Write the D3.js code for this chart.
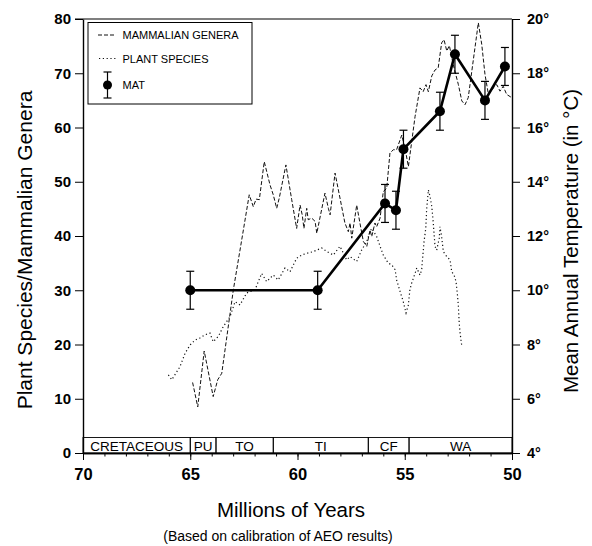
<!DOCTYPE html>
<html>
<head>
<meta charset="utf-8">
<script src="https://cdn.jsdelivr.net/npm/d3@7"></script>
<style>
	body { margin: 0; background: #fff; }
	svg { font-family: "Liberation Sans", Arial, Helvetica, sans-serif; }
</style>
</head>
<body>
<svg id="chart" width="592" height="546"></svg>
<script>
// ages are in millions of years, counts on left axis, temperatures in deg C
var mammalAge = [64.89, 64.65, 64.35, 63.93, 63.72, 63.53, 62.99, 62.60, 62.25, 62.06, 61.93, 61.78,
	61.55, 61.28, 61.13, 60.97, 60.85, 60.54, 60.27, 60.04, 59.88, 59.78, 59.70, 59.57, 59.50, 59.34,
	59.18, 59.10, 58.72, 58.56, 58.48, 58.25, 58.02, 57.79, 57.63, 57.55, 57.47, 57.24, 57.09, 56.93,
	56.77, 56.62, 56.54, 56.39, 56.31, 56.15, 56.00, 55.84, 55.69, 55.53, 55.38, 55.22, 55.14, 54.99,
	54.83, 54.52, 54.29, 54.14, 54.01, 53.90, 53.74, 53.59, 53.44, 53.28, 53.17, 53.04, 52.92, 52.74,
	52.50, 52.34, 52.19, 52.04, 51.57, 51.41, 51.26, 51.10, 50.87, 50.71, 50.56, 50.41, 50.25, 50.01];
var mammalCount = [13.0, 8.5, 18.8, 10.4, 13.5, 14.7, 30.1, 39.3, 47.6, 45.4, 46.8, 46.7,
	53.7, 49.4, 47.6, 45.1, 47.0, 53.1, 46.7, 41.4, 45.7, 43.9, 41.4, 45.1, 43.0, 43.3,
	42.7, 40.5, 47.9, 45.1, 43.9, 51.6, 47.0, 42.4, 40.8, 42.4, 39.6, 45.7, 42.4, 39.0,
	38.1, 41.1, 39.9, 42.4, 41.7, 43.3, 48.2, 48.8, 55.3, 55.9, 55.9, 57.7, 58.6, 56.2,
	52.8, 62.0, 67.3, 66.6, 67.9, 66.6, 69.5, 70.6, 71.0, 75.6, 76.2, 74.1, 75.1, 71.6,
	67.9, 64.9, 64.2, 65.5, 79.3, 75.3, 69.8, 66.1, 67.3, 67.9, 66.7, 67.6, 66.1, 65.5];

var plantAge = [66.02, 65.86, 65.48, 65.24, 65.01, 64.78, 64.55, 64.31, 64.08, 63.93, 63.69, 63.46,
	63.15, 62.91, 62.68, 62.37, 61.98, 61.67, 61.44, 61.13, 60.90, 60.58, 60.35, 60.04, 59.80, 59.57,
	59.28, 58.87, 58.62, 58.33, 58.02, 57.71, 57.55, 57.24, 57.01, 56.77, 56.62, 56.54, 56.31, 56.15,
	56.00, 55.77, 55.61, 55.45, 55.38, 55.22, 55.07, 54.94, 54.83, 54.76, 54.68, 54.60, 54.52, 54.44,
	54.29, 54.21, 54.16, 54.10, 54.02, 53.98, 53.90, 53.82, 53.74, 53.67, 53.59, 53.51, 53.39, 53.36,
	53.28, 53.20, 53.04, 52.89, 52.81, 52.70, 52.61, 52.55, 52.50, 52.46, 52.42, 52.34];
var plantCount = [14.4, 13.5, 15.9, 18.4, 19.9, 20.8, 21.2, 21.8, 22.1, 20.5, 21.5, 23.3,
	25.1, 27.9, 27.3, 29.5, 30.1, 33.1, 31.6, 32.8, 31.9, 34.1, 33.4, 35.9, 36.5, 36.8,
	37.1, 37.8, 37.1, 36.5, 38.1, 35.6, 36.2, 35.3, 37.4, 39.0, 40.8, 41.4, 39.9, 38.1,
	36.5, 35.0, 34.7, 33.8, 31.9, 29.8, 27.9, 25.8, 27.3, 30.1, 31.3, 32.2, 33.1, 34.1,
	32.8, 33.8, 36.2, 39.0, 41.4, 44.8, 48.5, 47.3, 45.4, 42.4, 38.1, 37.4, 39.6, 41.7,
	39.9, 37.1, 36.2, 35.6, 33.4, 32.8, 31.6, 29.5, 27.0, 23.9, 22.1, 19.7];

var matAge = [65.0, 59.06, 55.92, 55.41, 55.06, 53.36, 52.66, 51.26, 50.33];
var matTemp = [10.0, 10.0, 13.2, 12.95, 15.2, 16.6, 18.7, 17.0, 18.25];
var matErr = [0.7, 0.7, 0.7, 0.7, 0.7, 0.7, 0.7, 0.7, 0.7];

var stageNames = ["CRETACEOUS", "PU", "TO", "TI", "CF", "WA"];
var stageStart = [70, 65, 63.8, 61.13, 56.7, 54.8];
var stageEnd = [65, 63.8, 61.13, 56.7, 54.8, 50];

var countTicks = [0, 10, 20, 30, 40, 50, 60, 70, 80];
var tempTicks = [4, 6, 8, 10, 12, 14, 16, 18, 20];
var ageTicks = [70, 65, 60, 55, 50];
var ageMinor = d3.range(50, 71);

var legendLabels = ["MAMMALIAN GENERA", "PLANT SPECIES", "MAT"];

(function(){
	var svg = d3.select("#chart");

	var x0 = 83, x1 = 512, y0 = 453, y1 = 19;

	var xscale = d3.scaleLinear().domain([70, 50]).range([x0, x1]);
	var yscale = d3.scaleLinear().domain([0, 80]).range([y0, y1]);
	var tscale = d3.scaleLinear().domain([4, 20]).range([y0, y1]);

	// frame top line
	svg.append("line")
		.attr("x1", x0 - 8).attr("x2", x1)
		.attr("y1", y1).attr("y2", y1)
		.attr("stroke", "#000").attr("stroke-width", 1.2);

	// stage boxes along the bottom
	var sb = svg.append("g").attr("class", "stages");
	sb.selectAll("rect")
		.data(stageNames)
		.enter().append("rect")
			.attr("x", function(d, i){ return xscale(stageStart[i]); })
			.attr("width", function(d, i){ return xscale(stageEnd[i]) - xscale(stageStart[i]); })
			.attr("y", y0 - 15.5)
			.attr("height", 15.5)
			.attr("fill", "none")
			.attr("stroke", "#000")
			.attr("stroke-width", 0.9);
	sb.selectAll("text")
		.data(stageNames)
		.enter().append("text")
			.attr("x", function(d, i){ return (xscale(stageStart[i]) + xscale(stageEnd[i])) / 2; })
			.attr("y", y0 - 2.5)
			.attr("text-anchor", "middle")
			.style("font-size", "13.5px")
			.text(function(d){ return d; });

	// axes
	var leftAxis = d3.axisLeft(yscale).tickValues(countTicks).tickSize(8).tickSizeOuter(0).tickPadding(4);
	var gl = svg.append("g").attr("transform", "translate(" + x0 + ",0)").call(leftAxis);
	gl.selectAll("text").style("font-size", "15px").style("font-weight", "bold").attr("fill", "#000");

	var rightAxis = d3.axisRight(tscale).tickValues(tempTicks).tickSize(8).tickSizeOuter(0).tickPadding(7)
		.tickFormat(function(d){ return d + "\u00b0"; });
	var gr = svg.append("g").attr("transform", "translate(" + x1 + ",0)").call(rightAxis);
	gr.selectAll("text").style("font-size", "14.5px").style("font-weight", "bold").attr("fill", "#000");

	var minorAxis = d3.axisBottom(xscale).tickValues(ageMinor).tickSize(3.5).tickSizeOuter(0).tickFormat("");
	svg.append("g").attr("transform", "translate(0," + y0 + ")").call(minorAxis);

	var bottomAxis = d3.axisBottom(xscale).tickValues(ageTicks).tickSize(7).tickSizeOuter(0).tickPadding(8)
		.tickFormat(d3.format("d"));
	var gb = svg.append("g").attr("transform", "translate(0," + y0 + ")").call(bottomAxis);
	gb.selectAll("text").style("font-size", "16.5px").style("font-weight", "bold").attr("fill", "#000");

	svg.selectAll(".domain").attr("stroke-width", 1.4);

	// plant species (dotted)
	var line = d3.line()
		.x(function(d){ return xscale(d[0]); })
		.y(function(d){ return yscale(d[1]); });

	svg.append("path")
		.datum(d3.zip(plantAge, plantCount))
		.attr("d", line)
		.attr("fill", "none")
		.attr("stroke", "#111")
		.attr("stroke-width", 1.2)
		.attr("stroke-dasharray", "1.2,2.6");

	// mammalian genera (dashed)
	svg.append("path")
		.datum(d3.zip(mammalAge, mammalCount))
		.attr("d", line)
		.attr("fill", "none")
		.attr("stroke", "#111")
		.attr("stroke-width", 1)
		.attr("stroke-dasharray", "4,2");

	// MAT
	var tline = d3.line()
		.x(function(d){ return xscale(d[0]); })
		.y(function(d){ return tscale(d[1]); });

	var mat = d3.zip(matAge, matTemp, matErr);
	var gm = svg.append("g").attr("class", "mat");

	gm.selectAll("line.err")
		.data(mat)
		.enter().append("line")
			.attr("class", "err")
			.attr("x1", function(d){ return xscale(d[0]); })
			.attr("x2", function(d){ return xscale(d[0]); })
			.attr("y1", function(d){ return tscale(d[1] - d[2]); })
			.attr("y2", function(d){ return tscale(d[1] + d[2]); })
			.attr("stroke", "#000").attr("stroke-width", 1.2);
	[1, -1].forEach(function(s){
		gm.selectAll("line.cap" + (s > 0 ? "t" : "b"))
			.data(mat)
			.enter().append("line")
				.attr("class", "cap" + (s > 0 ? "t" : "b"))
				.attr("x1", function(d){ return xscale(d[0]) - 4; })
				.attr("x2", function(d){ return xscale(d[0]) + 4; })
				.attr("y1", function(d){ return tscale(d[1] + s * d[2]); })
				.attr("y2", function(d){ return tscale(d[1] + s * d[2]); })
				.attr("stroke", "#000").attr("stroke-width", 1.2);
	});

	gm.append("path")
		.datum(mat)
		.attr("d", tline)
		.attr("fill", "none")
		.attr("stroke", "#000")
		.attr("stroke-width", 2.6);

	gm.selectAll("circle")
		.data(mat)
		.enter().append("circle")
			.attr("cx", function(d){ return xscale(d[0]); })
			.attr("cy", function(d){ return tscale(d[1]); })
			.attr("r", 5)
			.attr("fill", "#000");

	// legend
	var lg = svg.append("g").attr("class", "legend");
	lg.append("rect")
		.attr("x", 88).attr("y", 22.5)
		.attr("width", 164).attr("height", 81.5)
		.attr("fill", "#fff").attr("stroke", "#000").attr("stroke-width", 1);
	lg.append("line")
		.attr("x1", 98).attr("x2", 116).attr("y1", 35).attr("y2", 35)
		.attr("stroke", "#111").attr("stroke-dasharray", "4,2");
	lg.append("line")
		.attr("x1", 99).attr("x2", 116).attr("y1", 58.5).attr("y2", 58.5)
		.attr("stroke", "#111").attr("stroke-width", 1.2).attr("stroke-dasharray", "1.2,2.6");
	lg.append("line")
		.attr("x1", 107.5).attr("x2", 107.5).attr("y1", 72).attr("y2", 98)
		.attr("stroke", "#000").attr("stroke-width", 1.2);
	lg.append("line")
		.attr("x1", 103.5).attr("x2", 111.5).attr("y1", 72).attr("y2", 72)
		.attr("stroke", "#000").attr("stroke-width", 1.2);
	lg.append("line")
		.attr("x1", 103.5).attr("x2", 111.5).attr("y1", 98).attr("y2", 98)
		.attr("stroke", "#000").attr("stroke-width", 1.2);
	lg.append("circle").attr("cx", 107.5).attr("cy", 85).attr("r", 4.5).attr("fill", "#000");
	lg.selectAll("text")
		.data(legendLabels)
		.enter().append("text")
			.attr("x", 122.5)
			.attr("y", function(d, i){ return [39, 62.5, 88.5][i]; })
			.style("font-size", "11px")
			.text(function(d){ return d; });

	// axis titles
	svg.append("text")
		.attr("transform", "translate(32," + ((y0 + y1) / 2 + 14) + ") rotate(-90)")
		.attr("text-anchor", "middle")
		.style("font-size", "21px")
		.text("Plant Species/Mammalian Genera");
	svg.append("text")
		.attr("transform", "translate(578," + ((y0 + y1) / 2 + 5) + ") rotate(-90)")
		.attr("text-anchor", "middle")
		.style("font-size", "20.5px")
		.text("Mean Annual Temperature (in \u00b0C)");
	svg.append("text")
		.attr("x", 291).attr("y", 517)
		.attr("text-anchor", "middle")
		.style("font-size", "20.5px")
		.text("Millions of Years");
	svg.append("text")
		.attr("x", 278).attr("y", 541)
		.attr("text-anchor", "middle")
		.style("font-size", "14px")
		.text("(Based on calibration of AEO results)");
})();
</script>
</body>
</html>
